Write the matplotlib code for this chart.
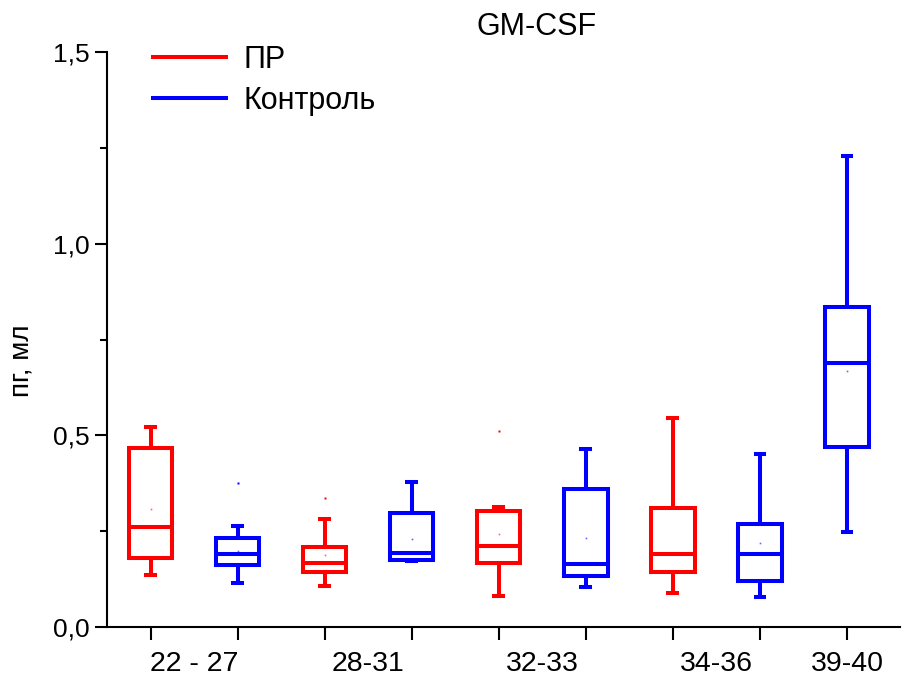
import matplotlib.pyplot as plt
from matplotlib.lines import Line2D

# Données (GM-CSF, pg/ml)
positions = [1, 2, 3, 4, 5, 6, 7, 8, 9]
groupes = ["ПР", "Контроль", "ПР", "Контроль", "ПР", "Контроль", "ПР", "Контроль", "Контроль"]
whislo = [0.136, 0.114, 0.108, 0.172, 0.082, 0.105, 0.088, 0.077, 0.249]
q1 = [0.179, 0.162, 0.143, 0.175, 0.166, 0.133, 0.144, 0.120, 0.470]
med = [0.262, 0.190, 0.168, 0.192, 0.212, 0.164, 0.190, 0.190, 0.688]
q3 = [0.466, 0.231, 0.208, 0.298, 0.303, 0.361, 0.310, 0.268, 0.834]
whishi = [0.523, 0.263, 0.281, 0.378, 0.312, 0.464, 0.544, 0.451, 1.230]
moyenne = [0.308, 0.199, 0.188, 0.230, 0.243, 0.233, 0.190, 0.218, 0.669]
aberrants = [[], [0.375], [0.336], [], [0.512], [], [], [], []]

label_pos = [1.5, 3.5, 5.5, 7.5, 9]
age_labels = ["22 - 27", "28-31", "32-33", "34-36", "39-40"]
ytick_vals = [0.0, 0.5, 1.0, 1.5]
ytick_labels = ["0,0", "0,5", "1,0", "1,5"]

couleurs = {"ПР": "#ff0000", "Контроль": "#0000ff"}

plt.rcParams['font.family'] = ['Liberation Sans', 'DejaVu Sans']

fig = plt.figure(figsize=(9.02, 6.84), dpi=100)
ax = fig.add_axes([107 / 902, 57 / 684, 793 / 902, 575 / 684])

lw = 2.9
for i, p in enumerate(positions):
    c = couleurs[groupes[i]]
    stats = [{
        'whislo': whislo[i], 'q1': q1[i], 'med': med[i], 'q3': q3[i],
        'whishi': whishi[i], 'mean': moyenne[i], 'fliers': aberrants[i],
    }]
    ax.bxp(stats, positions=[p], widths=0.5, showmeans=True, capwidths=0.1,
           boxprops=dict(color=c, linewidth=lw, solid_joinstyle='miter'),
           whiskerprops=dict(color=c, linewidth=lw, solid_capstyle='butt'),
           capprops=dict(color=c, linewidth=lw),
           medianprops=dict(color=c, linewidth=lw, solid_capstyle='butt'),
           meanprops=dict(marker='s', markersize=1.2, markerfacecolor=c,
                          markeredgecolor='none', alpha=0.6),
           flierprops=dict(marker='s', markersize=1.5, markerfacecolor=c,
                           markeredgecolor='none'),
           manage_ticks=False)

ax.set_xlim(0.5, 9.61)
ax.set_ylim(0, 1.5)

ax.spines['top'].set_visible(False)
ax.spines['right'].set_visible(False)
ax.spines['left'].set_linewidth(1.5)
ax.spines['bottom'].set_linewidth(1.5)

# graduations aux positions des boîtes, étiquettes entre les paires
ax.xaxis.remove_overlapping_locs = False
ax.set_xticks(positions)
ax.set_xticklabels([])
ax.set_xticks(label_pos, minor=True)
ax.set_xticklabels(age_labels, minor=True)
ax.tick_params(axis='x', which='major', length=9, width=1.5, direction='out')
ax.tick_params(axis='x', which='minor', length=0, pad=17.5, labelsize=20.5)

ax.set_yticks(ytick_vals)
ax.set_yticklabels(ytick_labels)
ax.set_yticks([0.25, 0.75, 1.25], minor=True)
ax.tick_params(axis='y', which='major', length=8.5, width=1.5, pad=4, labelsize=19)
ax.tick_params(axis='y', which='minor', length=5, width=1.5)

fig.text(22 / 902, 1 - 361 / 684, "пг, мл", rotation=90, fontsize=20,
         ha='center', va='center')
fig.text(537 / 902, 1 - 35 / 684, "GM-CSF", fontsize=22, ha='center',
         va='baseline')

handles = [Line2D([], [], color=couleurs["ПР"], linewidth=lw),
           Line2D([], [], color=couleurs["Контроль"], linewidth=lw)]
ax.legend(handles, ["ПР", "Контроль"], loc='upper left',
          bbox_to_anchor=(153 / 902, 1 - 45 / 684), bbox_transform=fig.transFigure,
          frameon=False, fontsize=22, handlelength=2.4, handletextpad=0.55,
          labelspacing=0.35, borderpad=0, borderaxespad=0)

plt.savefig("out.png", dpi=100)
